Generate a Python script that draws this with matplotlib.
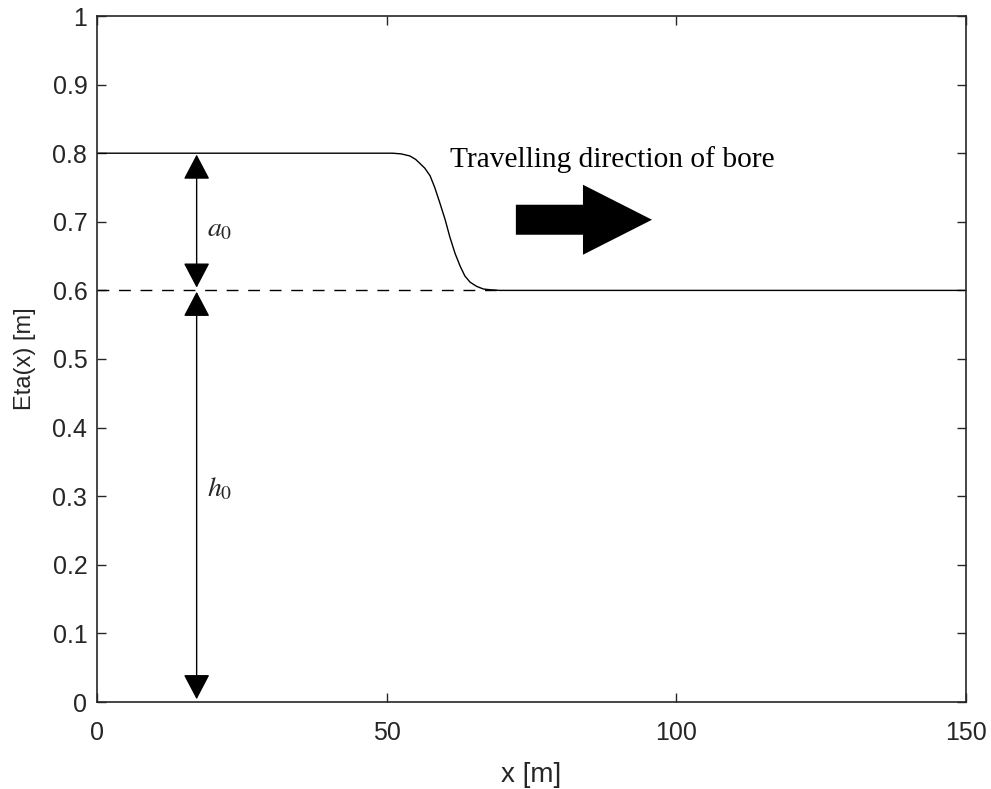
import matplotlib.pyplot as plt
from matplotlib.patches import FancyArrowPatch

# water surface profile
x_eta = [0, 51.0, 52.5, 54.0, 55.0, 55.75, 56.6, 57.5, 58.3, 59.2, 60.1, 60.9, 61.8, 62.7,
         63.5, 64.4, 65.5, 66.7, 67.8, 69.5, 150]
y_eta = [0.8, 0.8, 0.799, 0.796, 0.791, 0.785, 0.778, 0.767, 0.750, 0.727, 0.703, 0.678,
         0.654, 0.635, 0.621, 0.612, 0.606, 0.602, 0.601, 0.6, 0.6]

# still water level (dashed)
x_still = [0, 70]
y_still = [0.6, 0.6]

h0 = 0.6
a0 = 0.2
x_marker = 17.2

x_ticks = [0, 50, 100, 150]
y_ticks = [0, 0.1, 0.2, 0.3, 0.4, 0.5, 0.6, 0.7, 0.8, 0.9, 1]
y_ticklabels = ['0', '0.1', '0.2', '0.3', '0.4', '0.5', '0.6', '0.7', '0.8', '0.9', '1']

gray = '#262626'
plt.rcParams['font.family'] = ['Liberation Sans', 'DejaVu Sans']
plt.rcParams['mathtext.fontset'] = 'stix'

fig = plt.figure(figsize=(9.91, 7.89), dpi=100)
ax = fig.add_axes([97 / 991, 1 - 702 / 789, 869 / 991, 686 / 789])

ax.plot(x_still, y_still, color='k', lw=1.0, dashes=(8.5, 7))
ax.plot(x_eta, y_eta, color='k', lw=1.0)

# double-headed measurement arrows
for lo, hi in [(h0, h0 + a0), (0, h0)]:
    arr = FancyArrowPatch((x_marker, lo), (x_marker, hi),
                          arrowstyle='<|-|>,head_length=15.8,head_width=8.3',
                          mutation_scale=1, color='k', lw=1.0,
                          shrinkA=2, shrinkB=1)
    ax.add_patch(arr)

ax.text(x_marker + 1.8, 0.678, r'$a_0$', fontsize=20, color=gray, va='baseline')
ax.text(x_marker + 1.8, 0.299, r'$h_0$', fontsize=20, color=gray, va='baseline')

ax.text(60.9, 0.780, 'Travelling direction of bore', fontsize=21.2,
        family='Liberation Serif', color='k', va='baseline')
big = FancyArrowPatch((72.3, 0.703), (95.8, 0.703),
                      arrowstyle='simple,head_length=49.7,head_width=50.4,tail_width=21.6',
                      mutation_scale=1, color='k', lw=0, shrinkA=0, shrinkB=0)
ax.add_patch(big)

ax.set_xlim(0, 150)
ax.set_ylim(0, 1)
ax.set_xticks(x_ticks)
ax.set_yticks(y_ticks)
ax.set_yticklabels(y_ticklabels)
ax.tick_params(direction='in', length=6.5, width=1.0, colors=gray, labelsize=18,
               top=True, right=True)
ax.tick_params(axis='x', pad=14)
ax.tick_params(axis='y', pad=7)
for s in ax.spines.values():
    s.set_color(gray)
    s.set_linewidth(1.2)

ax.set_xlabel('x [m]', fontsize=20, color=gray, labelpad=12)
ax.set_ylabel('Eta(x) [m]', fontsize=17, color=gray, labelpad=12)

fig.savefig('out.png', dpi=100)
